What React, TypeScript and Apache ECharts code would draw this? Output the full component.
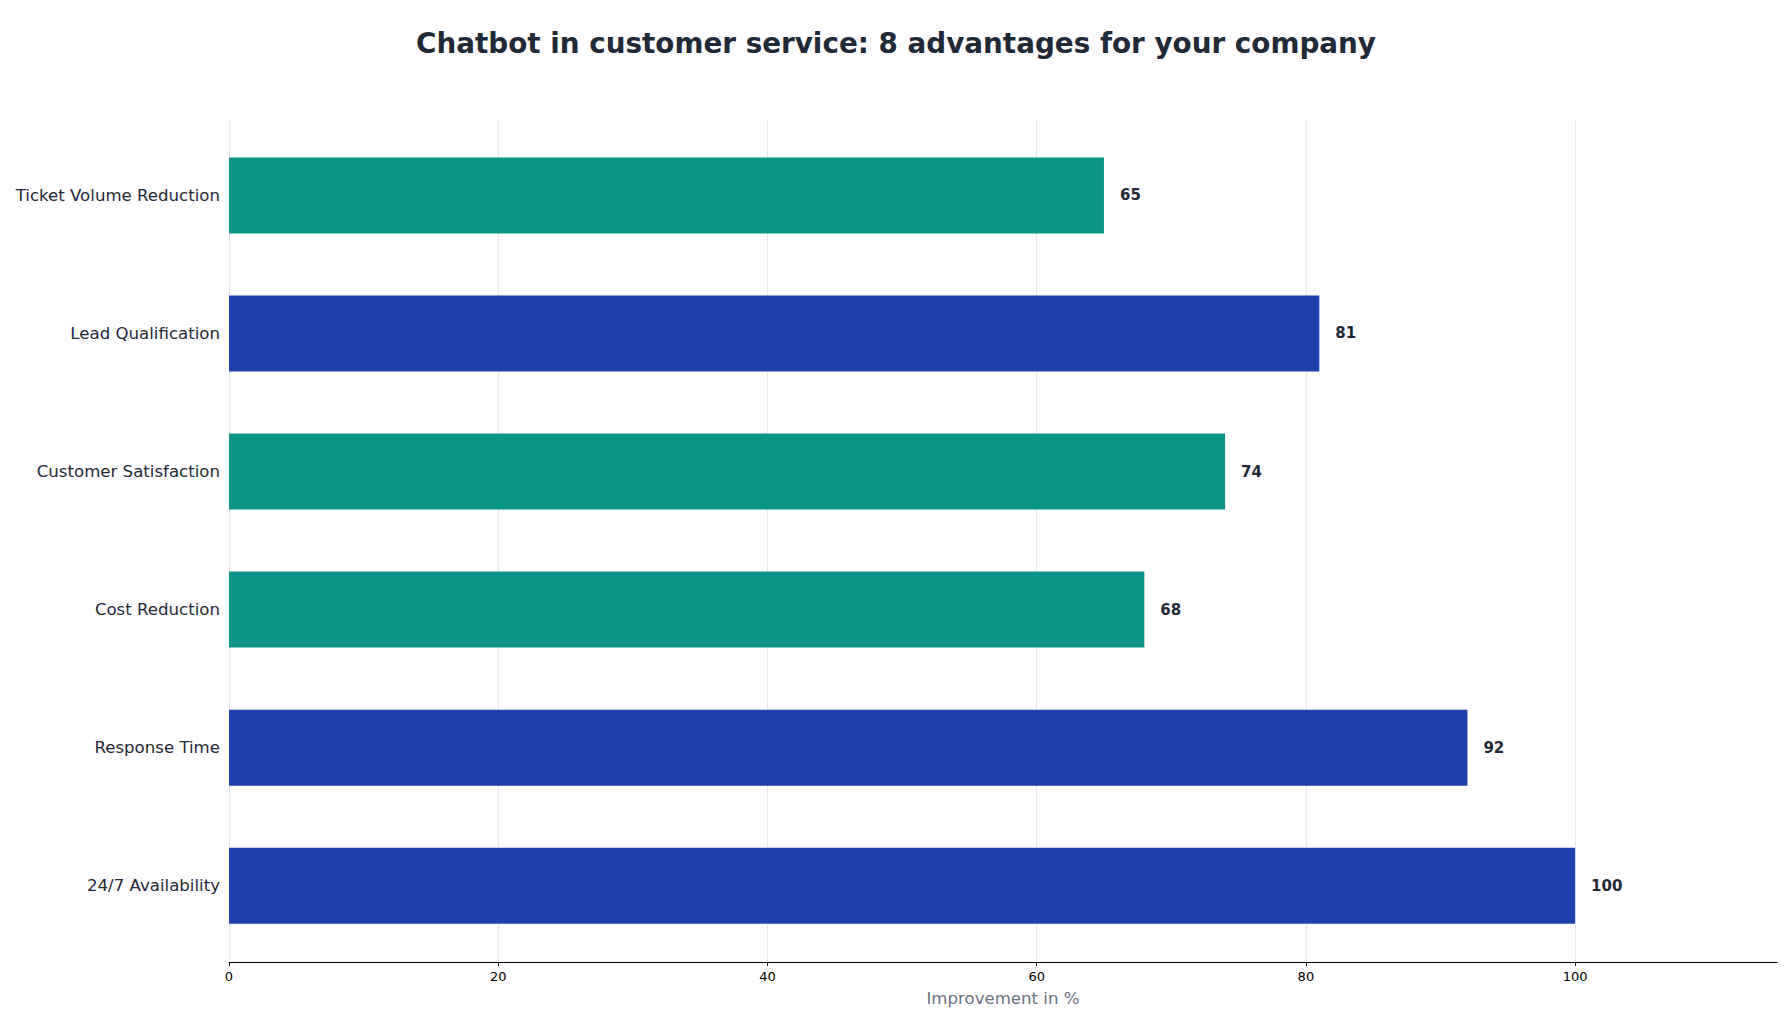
import { useEffect, useRef } from 'react';
import * as echarts from 'echarts';

const categories = [
  'Ticket Volume Reduction',
  'Lead Qualification',
  'Customer Satisfaction',
  'Cost Reduction',
  'Response Time',
  '24/7 Availability',
];
const values = [65, 81, 74, 68, 92, 100];
const barColors = ['#0d9488', '#1e40af', '#0d9488', '#0d9488', '#1e40af', '#1e40af'];
const xTicks = [0, 20, 40, 60, 80, 100];

const FONT = '"DejaVu Sans", Verdana, sans-serif';
const TEXT = '#1f2937';

export default function App() {
  const chartRef = useRef<HTMLDivElement>(null);

  useEffect(() => {
    document.body.style.margin = '0';
    if (!chartRef.current) return;
    const chart = echarts.init(chartRef.current, undefined, { renderer: 'svg' });

    const option: echarts.EChartsOption = {
      animation: false,
      backgroundColor: '#ffffff',
      textStyle: { fontFamily: FONT },
      title: {
        text: 'Chatbot in customer service: 8 advantages for your company',
        left: 'center',
        top: 24,
        textStyle: { fontSize: 27.8, fontWeight: 'bold', color: TEXT, fontFamily: FONT },
      },
      grid: [
        // outer frame: gridlines and x axis
        { left: 229, right: 15, top: 119, bottom: 62 },
        // bars
        { left: 229, right: 15, top: 126.4, bottom: 69.3 },
      ],
      xAxis: [
        {
          type: 'value',
          gridIndex: 0,
          min: 0,
          max: 115,
          interval: 20,
          name: 'Improvement in %',
          nameLocation: 'middle',
          nameGap: 28,
          nameTextStyle: { fontSize: 16.6, color: '#6b7280', fontFamily: FONT },
          axisLine: { show: true, lineStyle: { color: '#000000', width: 1.2 } },
          axisTick: { show: true, length: 4, customValues: xTicks, lineStyle: { color: '#000000', width: 1 } },
          axisLabel: { fontSize: 13, color: '#000000', margin: 8, customValues: xTicks, fontFamily: FONT },
          splitLine: {
            show: true,
            lineStyle: {
              color: ['#e5e7eb', '#e5e7eb', '#e5e7eb', '#e5e7eb', '#e5e7eb', '#e5e7eb', 'rgba(0,0,0,0)'],
              width: 1,
            },
          },
        },
        {
          type: 'value',
          gridIndex: 1,
          min: 0,
          max: 115,
          show: false,
          splitLine: { show: false },
        },
      ],
      yAxis: [
        {
          type: 'category',
          gridIndex: 0,
          data: categories,
          show: false,
        },
        {
          type: 'category',
          gridIndex: 1,
          data: categories,
          inverse: true,
          axisLine: { show: false },
          axisTick: { show: false },
          axisLabel: { fontSize: 16.6, color: TEXT, margin: 9, fontFamily: FONT },
          splitLine: { show: false },
        },
      ],
      series: [
        {
          type: 'bar',
          xAxisIndex: 1,
          yAxisIndex: 1,
          barWidth: 76,
          data: values.map((v, i) => ({ value: v, itemStyle: { color: barColors[i] } })),
          label: {
            show: true,
            position: 'right',
            distance: 16,
            fontSize: 15,
            fontWeight: 'bold',
            color: TEXT,
            fontFamily: FONT,
          },
        },
      ],
    };

    chart.setOption(option);
    return () => {
      chart.dispose();
    };
  }, []);

  return <div ref={chartRef} style={{ width: 1792, height: 1024 }} />;
}
